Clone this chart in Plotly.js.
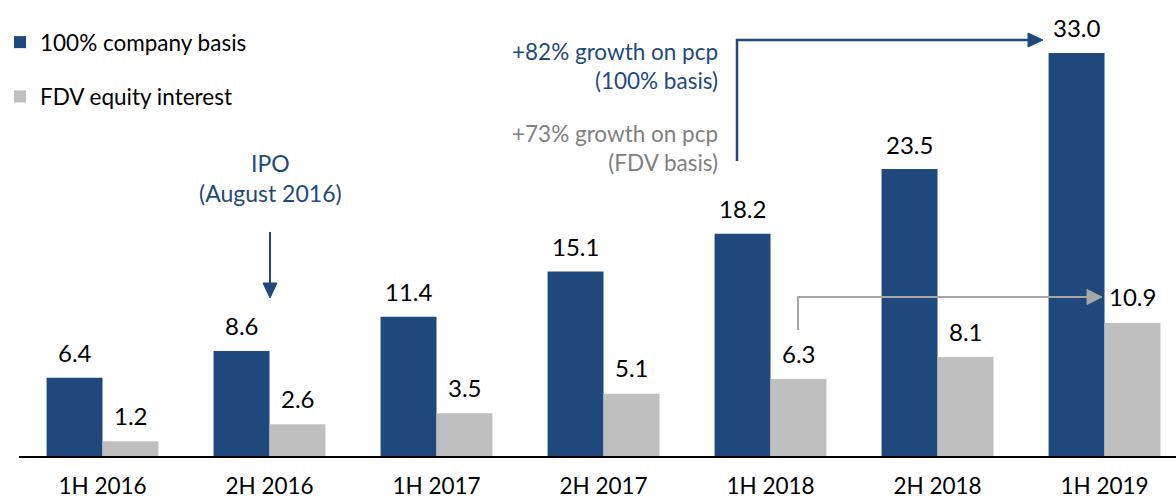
<!DOCTYPE html>
<html>
<head>
<meta charset="utf-8">
<script src="https://cdn.plot.ly/plotly-3.0.1.min.js"></script>
<style>
html,body{margin:0;padding:0;background:#fff;}
#chart{width:1176px;height:500px;}
</style>
</head>
<body>
<div id="chart"></div>
<script>
const categories = ["1H 2016","2H 2016","1H 2017","2H 2017","1H 2018","2H 2018","1H 2019"];
const companyBasis = [6.4, 8.6, 11.4, 15.1, 18.2, 23.5, 33.0];
const fdvInterest = [1.2, 2.6, 3.5, 5.1, 6.3, 8.1, 10.9];
const seriesNames = ["100% company basis", "FDV equity interest"];

const BLUE = "#1F497D", GREY = "#BFBFBF", GREYTXT = "#808080", GREYLINE = "#A6A6A6";
const FONT = "Lato, 'Open Sans', sans-serif";

const W = 1176, H = 500;
const M = {l: 0, r: 0, t: 20, b: 44};
const PH = H - M.t - M.b;
const px = x => x / W;
const py = y => (H - M.b - y) / PH;

const traces = [
  {type: "bar", name: seriesNames[0], x: categories, y: companyBasis,
   marker: {color: BLUE}, legendgroup: "a", hoverinfo: "x+y"},
  {type: "bar", name: seriesNames[1], x: categories, y: fdvInterest,
   marker: {color: GREY}, legendgroup: "b", hoverinfo: "x+y"}
];

const annotations = [];
const barOffset = 28;
categories.forEach((c, i) => {
  annotations.push({x: c, y: companyBasis[i], xref: "x", yref: "y", text: companyBasis[i].toFixed(1),
    showarrow: false, xshift: -barOffset, yshift: 25, yanchor: "middle",
    font: {family: FONT, size: 24, color: "#000"}});
  annotations.push({x: c, y: fdvInterest[i], xref: "x", yref: "y", text: fdvInterest[i].toFixed(1),
    showarrow: false, xshift: barOffset, yshift: 26, yanchor: "middle",
    font: {family: FONT, size: 24, color: "#000"}});
});

// text annotations
annotations.push({xref: "paper", yref: "paper", x: px(270), y: py(178), text: "IPO<br>(August 2016)",
  showarrow: false, xanchor: "center", yanchor: "middle", align: "center",
  font: {family: FONT, size: 23, color: BLUE}});
annotations.push({xref: "paper", yref: "paper", x: px(720), y: py(66), text: "+82% growth on pcp<br>(100% basis)",
  showarrow: false, xanchor: "right", yanchor: "middle", align: "right",
  font: {family: FONT, size: 22.5, color: BLUE}});
annotations.push({xref: "paper", yref: "paper", x: px(720), y: py(148), text: "+73% growth on pcp<br>(FDV basis)",
  showarrow: false, xanchor: "right", yanchor: "middle", align: "right",
  font: {family: FONT, size: 22.5, color: GREYTXT}});

function P(x, y) { return px(x) + "," + py(y); }
const shapes = [
  // IPO arrow
  {type: "line", xref: "paper", yref: "paper", x0: px(270), y0: py(232), x1: px(270), y1: py(286),
   line: {color: BLUE, width: 2}},
  {type: "path", xref: "paper", yref: "paper", path: "M" + P(263, 283) + " L" + P(277, 283) + " L" + P(270, 298) + " Z",
   fillcolor: BLUE, line: {color: BLUE, width: 1}},
  // blue elbow
  {type: "path", xref: "paper", yref: "paper", path: "M" + P(737, 161) + " L" + P(737, 40) + " L" + P(1030, 40),
   line: {color: BLUE, width: 2.5}},
  {type: "path", xref: "paper", yref: "paper", path: "M" + P(1028, 33) + " L" + P(1043, 40) + " L" + P(1028, 47) + " Z",
   fillcolor: BLUE, line: {color: BLUE, width: 1}},
  // grey elbow
  {type: "path", xref: "paper", yref: "paper", path: "M" + P(798, 330) + " L" + P(798, 297) + " L" + P(1089, 297),
   line: {color: GREYLINE, width: 2}},
  {type: "path", xref: "paper", yref: "paper", path: "M" + P(1087, 289.5) + " L" + P(1102, 297) + " L" + P(1087, 304.5) + " Z",
   fillcolor: GREYLINE, line: {color: GREYLINE, width: 1}}
];

const layout = {
  width: W, height: H,
  margin: M,
  paper_bgcolor: "#fff", plot_bgcolor: "#fff",
  barmode: "group", bargap: 0.33, bargroupgap: 0,
  font: {family: FONT, color: "#000"},
  showlegend: true,
  legend: {xref: "paper", yref: "paper", x: 0, y: py(21), xanchor: "left", yanchor: "top",
    font: {family: FONT, size: 22.5, color: "#000"}, tracegroupgap: 22, itemwidth: 30,
    bgcolor: "rgba(0,0,0,0)"},
  xaxis: {type: "category", domain: [19 / W, 1], range: [-0.5, 6.428], showline: true, linecolor: "#000", linewidth: 2,
    ticks: "", showgrid: false, zeroline: false, ticklabelstandoff: 9,
    tickfont: {family: FONT, size: 22.5, color: "#000"}, fixedrange: true},
  yaxis: {range: [0, 35.7], visible: false, showgrid: false, zeroline: false, fixedrange: true},
  annotations: annotations,
  shapes: shapes
};

Plotly.newPlot("chart", traces, layout, {displayModeBar: false, staticPlot: true});
</script>
</body>
</html>
